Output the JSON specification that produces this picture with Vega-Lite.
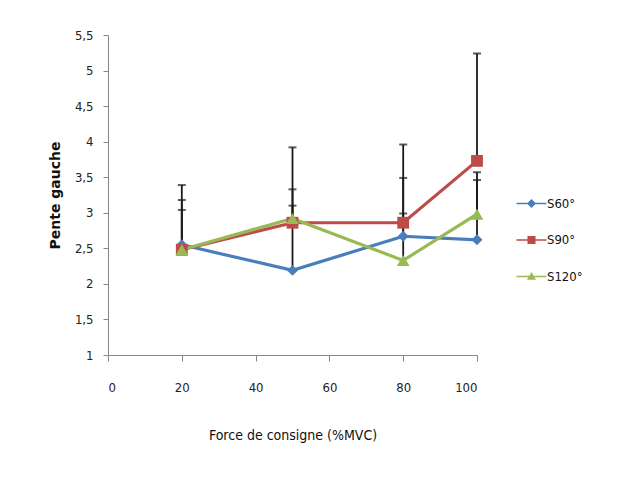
{
  "$schema": "https://vega.github.io/schema/vega-lite/v6.json",
  "autosize": "none",
  "width": 369,
  "height": 320,
  "padding": {"left": 108, "top": 35, "right": 142, "bottom": 134},
  "background": "white",
  "config": {
    "view": {"stroke": null},
    "font": "DejaVu Sans Condensed, sans-serif",
    "axis": {
      "grid": false,
      "domainColor": "#868686",
      "tickColor": "#868686",
      "labelColor": "#222222",
      "labelFontSize": 13,
      "labelFont": "DejaVu Sans Condensed, sans-serif",
      "titleFont": "DejaVu Sans Condensed, sans-serif",
      "titleColor": "#111111",
      "titleFontSize": 14
    }
  },
  "data": {
    "values": [
      {"series": "S60°", "force": 20, "pente": 2.55, "upper": 3.04},
      {"series": "S60°", "force": 50, "pente": 2.19, "upper": 3.10},
      {"series": "S60°", "force": 80, "pente": 2.67, "upper": 3.49},
      {"series": "S60°", "force": 100, "pente": 2.62, "upper": 3.46},
      {"series": "S90°", "force": 20, "pente": 2.48, "upper": 3.39},
      {"series": "S90°", "force": 50, "pente": 2.86, "upper": 3.92},
      {"series": "S90°", "force": 80, "pente": 2.86, "upper": 3.96},
      {"series": "S90°", "force": 100, "pente": 3.73, "upper": 5.24},
      {"series": "S120°", "force": 20, "pente": 2.48, "upper": 3.18},
      {"series": "S120°", "force": 50, "pente": 2.92, "upper": 3.33},
      {"series": "S120°", "force": 80, "pente": 2.33, "upper": 2.99},
      {"series": "S120°", "force": 100, "pente": 2.98, "upper": 3.57}
    ]
  },
  "encoding": {
    "x": {
      "field": "force",
      "type": "quantitative",
      "scale": {"domain": [0, 100], "nice": false, "zero": false},
      "axis": {
        "title": "Force de consigne (%MVC)",
        "values": [0, 20, 40, 60, 80, 100],
        "tickSize": 6,
        "labelPadding": 20,
        "titlePadding": 34,
        "titleFontWeight": "normal"
      }
    }
  },
  "layer": [
    {
      "mark": {"type": "rule", "color": "#1a1a1a", "strokeWidth": 1.8},
      "encoding": {
        "y": {
          "field": "pente",
          "type": "quantitative",
          "scale": {"domain": [1, 5.5], "nice": false, "zero": false},
          "axis": {
            "title": "Pente gauche",
            "values": [1, 1.5, 2, 2.5, 3, 3.5, 4, 4.5, 5, 5.5],
            "labelExpr": "replace(toString(datum.value), '.', ',')",
            "labelOverlap": false,
            "tickSize": 5,
            "labelPadding": 10,
            "titlePadding": 12,
            "titleFontWeight": "bold",
            "titleFont": "DejaVu Sans, sans-serif",
            "titleFontSize": 14
          }
        },
        "y2": {"field": "upper"}
      }
    },
    {
      "mark": {"type": "tick", "color": "#1a1a1a", "thickness": 2, "size": 8, "orient": "horizontal"},
      "encoding": {
        "y": {
          "field": "upper",
          "type": "quantitative",
          "axis": {
            "title": "Pente gauche",
            "values": [1, 1.5, 2, 2.5, 3, 3.5, 4, 4.5, 5, 5.5],
            "labelExpr": "replace(toString(datum.value), '.', ',')",
            "labelOverlap": false,
            "tickSize": 5,
            "labelPadding": 10,
            "titlePadding": 12,
            "titleFontWeight": "bold",
            "titleFont": "DejaVu Sans, sans-serif",
            "titleFontSize": 14
          }
        }
      }
    },
    {
      "mark": {"type": "line", "strokeWidth": 3.2},
      "encoding": {
        "y": {
          "field": "pente",
          "type": "quantitative",
          "axis": {
            "title": "Pente gauche",
            "values": [1, 1.5, 2, 2.5, 3, 3.5, 4, 4.5, 5, 5.5],
            "labelExpr": "replace(toString(datum.value), '.', ',')",
            "labelOverlap": false,
            "tickSize": 5,
            "labelPadding": 10,
            "titlePadding": 12,
            "titleFontWeight": "bold",
            "titleFont": "DejaVu Sans, sans-serif",
            "titleFontSize": 14
          }
        },
        "color": {
          "field": "series",
          "type": "nominal",
          "scale": {"domain": ["S60°", "S90°", "S120°"], "range": ["#4A7EBB", "#BE4B48", "#98B954"]}
        }
      }
    },
    {
      "transform": [{"filter": "datum.series === 'S60°'"}],
      "mark": {"type": "point", "filled": true, "opacity": 1, "shape": "diamond", "size": 120},
      "encoding": {
        "y": {
          "field": "pente",
          "type": "quantitative",
          "axis": {
            "title": "Pente gauche",
            "values": [1, 1.5, 2, 2.5, 3, 3.5, 4, 4.5, 5, 5.5],
            "labelExpr": "replace(toString(datum.value), '.', ',')",
            "labelOverlap": false,
            "tickSize": 5,
            "labelPadding": 10,
            "titlePadding": 12,
            "titleFontWeight": "bold",
            "titleFont": "DejaVu Sans, sans-serif",
            "titleFontSize": 14
          }
        },
        "color": {"field": "series", "type": "nominal"}
      }
    },
    {
      "transform": [{"filter": "datum.series === 'S90°'"}],
      "mark": {"type": "point", "filled": true, "opacity": 1, "shape": "square", "size": 140},
      "encoding": {
        "y": {
          "field": "pente",
          "type": "quantitative",
          "axis": {
            "title": "Pente gauche",
            "values": [1, 1.5, 2, 2.5, 3, 3.5, 4, 4.5, 5, 5.5],
            "labelExpr": "replace(toString(datum.value), '.', ',')",
            "labelOverlap": false,
            "tickSize": 5,
            "labelPadding": 10,
            "titlePadding": 12,
            "titleFontWeight": "bold",
            "titleFont": "DejaVu Sans, sans-serif",
            "titleFontSize": 14
          }
        },
        "color": {"field": "series", "type": "nominal"}
      }
    },
    {
      "transform": [{"filter": "datum.series === 'S120°'"}],
      "mark": {"type": "point", "filled": true, "opacity": 1, "shape": "triangle-up", "size": 160},
      "encoding": {
        "y": {
          "field": "pente",
          "type": "quantitative",
          "axis": {
            "title": "Pente gauche",
            "values": [1, 1.5, 2, 2.5, 3, 3.5, 4, 4.5, 5, 5.5],
            "labelExpr": "replace(toString(datum.value), '.', ',')",
            "labelOverlap": false,
            "tickSize": 5,
            "labelPadding": 10,
            "titlePadding": 12,
            "titleFontWeight": "bold",
            "titleFont": "DejaVu Sans, sans-serif",
            "titleFontSize": 14
          }
        },
        "color": {"field": "series", "type": "nominal"}
      }
    },
    {
      "mark": {"type": "point", "filled": true, "opacity": 0, "size": 100},
      "encoding": {
        "y": {
          "field": "pente",
          "type": "quantitative",
          "axis": {
            "title": "Pente gauche",
            "values": [1, 1.5, 2, 2.5, 3, 3.5, 4, 4.5, 5, 5.5],
            "labelExpr": "replace(toString(datum.value), '.', ',')",
            "labelOverlap": false,
            "tickSize": 5,
            "labelPadding": 10,
            "titlePadding": 12,
            "titleFontWeight": "bold",
            "titleFont": "DejaVu Sans, sans-serif",
            "titleFontSize": 14
          }
        },
        "color": {
          "field": "series",
          "type": "nominal",
          "legend": {
            "title": null,
            "orient": "none",
            "legendX": 417,
            "legendY": 162,
            "padding": 0,
            "labelFontSize": 13,
            "labelColor": "#111111",
            "labelFont": "DejaVu Sans Condensed, sans-serif",
            "symbolSize": 100,
            "symbolOpacity": 1,
            "symbolStrokeWidth": 0,
            "labelOffset": 9,
            "rowPadding": 22.5
          }
        },
        "shape": {
          "field": "series",
          "type": "nominal",
          "scale": {
            "domain": ["S60°", "S90°", "S120°"],
            "range": [
              "M-3,-0.17L3,-0.17L3,0.17L-3,0.17Z M0,-0.9L0.9,0L0,0.9L-0.9,0Z",
              "M-3,-0.17L3,-0.17L3,0.17L-3,0.17Z M-0.8,-0.8L0.8,-0.8L0.8,0.8L-0.8,0.8Z",
              "M-3,-0.17L3,-0.17L3,0.17L-3,0.17Z M0,-0.9L0.9,0.65L-0.9,0.65Z"
            ]
          }
        }
      }
    }
  ]
}
